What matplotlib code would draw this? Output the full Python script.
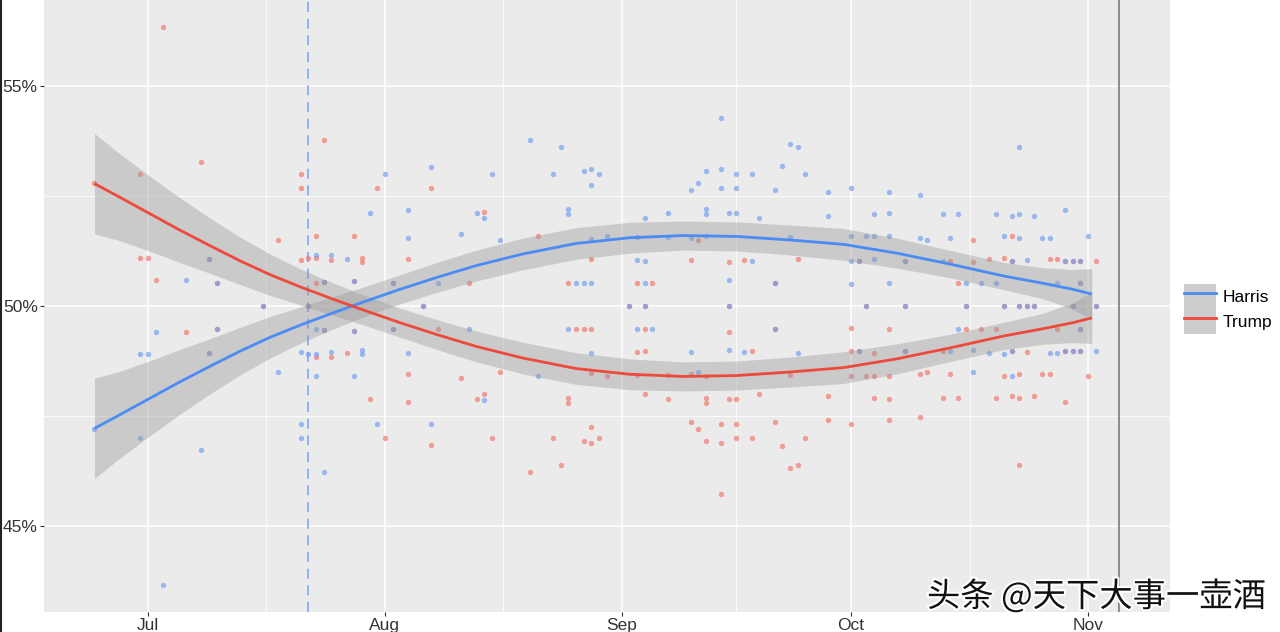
import matplotlib
matplotlib.use("Agg")
import matplotlib.pyplot as plt
import matplotlib.dates as mdates
import matplotlib.patheffects as pe
from matplotlib.lines import Line2D
from matplotlib.patches import Patch
import matplotlib.ticker as mticker
import pandas as pd

plt.rcParams["font.family"] = ["Liberation Sans", "DejaVu Sans"]

# ---- poll points (two-party share, %) ----
poll_dates = [
    "2024-06-24", "2024-06-30", "2024-06-30", "2024-07-01", "2024-07-02", "2024-07-03",
    "2024-07-06", "2024-07-08", "2024-07-09", "2024-07-09", "2024-07-10", "2024-07-10",
    "2024-07-16", "2024-07-18", "2024-07-21", "2024-07-21", "2024-07-21", "2024-07-22",
    "2024-07-22", "2024-07-23", "2024-07-23", "2024-07-23", "2024-07-23", "2024-07-24",
    "2024-07-24", "2024-07-24", "2024-07-25", "2024-07-25", "2024-07-27", "2024-07-28",
    "2024-07-28", "2024-07-28", "2024-07-29", "2024-07-29", "2024-07-30", "2024-07-31",
    "2024-08-01", "2024-08-02", "2024-08-02", "2024-08-04", "2024-08-04", "2024-08-04",
    "2024-08-06", "2024-08-07", "2024-08-07", "2024-08-08", "2024-08-11", "2024-08-12",
    "2024-08-13", "2024-08-14", "2024-08-14", "2024-08-15", "2024-08-16", "2024-08-20",
    "2024-08-21", "2024-08-23", "2024-08-24", "2024-08-25", "2024-08-25", "2024-08-25",
    "2024-08-26", "2024-08-27", "2024-08-27", "2024-08-28", "2024-08-28", "2024-08-28",
    "2024-08-28", "2024-08-28", "2024-08-29", "2024-08-30",
    "2024-09-02", "2024-09-03", "2024-09-03", "2024-09-03", "2024-09-04", "2024-09-04",
    "2024-09-04", "2024-09-04", "2024-09-05", "2024-09-07", "2024-09-07", "2024-09-10",
    "2024-09-10", "2024-09-10", "2024-09-11", "2024-09-11", "2024-09-12", "2024-09-12",
    "2024-09-12", "2024-09-12", "2024-09-14", "2024-09-14", "2024-09-14", "2024-09-15",
    "2024-09-15", "2024-09-15", "2024-09-15", "2024-09-16", "2024-09-16", "2024-09-16",
    "2024-09-17", "2024-09-18", "2024-09-18", "2024-09-19", "2024-09-21", "2024-09-21",
    "2024-09-21", "2024-09-22", "2024-09-23", "2024-09-23", "2024-09-24", "2024-09-24",
    "2024-09-25", "2024-09-28", "2024-09-28",
    "2024-10-01", "2024-10-01", "2024-10-01", "2024-10-01", "2024-10-02", "2024-10-02",
    "2024-10-03", "2024-10-03", "2024-10-04", "2024-10-04", "2024-10-04", "2024-10-06",
    "2024-10-06", "2024-10-06", "2024-10-06", "2024-10-08", "2024-10-08", "2024-10-08",
    "2024-10-10", "2024-10-10", "2024-10-11", "2024-10-13", "2024-10-13", "2024-10-14",
    "2024-10-14", "2024-10-15", "2024-10-15", "2024-10-16", "2024-10-16", "2024-10-17",
    "2024-10-17", "2024-10-18", "2024-10-19", "2024-10-20", "2024-10-20", "2024-10-21",
    "2024-10-21", "2024-10-21", "2024-10-22", "2024-10-22", "2024-10-22", "2024-10-22",
    "2024-10-23", "2024-10-23", "2024-10-23", "2024-10-23", "2024-10-24", "2024-10-24",
    "2024-10-25", "2024-10-25", "2024-10-26", "2024-10-27", "2024-10-27", "2024-10-28",
    "2024-10-28", "2024-10-29", "2024-10-29", "2024-10-29", "2024-10-30", "2024-10-30",
    "2024-10-30", "2024-10-31", "2024-10-31", "2024-10-31", "2024-10-31", "2024-11-01",
    "2024-11-02", "2024-11-02",
]
harris_pct = [
    47.20, 47.00, 48.92, 48.92, 49.40, 43.67,
    50.60, 46.74, 48.93, 51.07, 49.48, 50.52,
    50.00, 48.50, 47.00, 47.32, 48.95, 48.92,
    50.00, 51.16, 48.42, 48.92, 49.48, 46.23,
    50.55, 49.45, 51.16, 48.96, 51.07, 48.40,
    50.56, 49.44, 48.92, 49.00, 52.12, 47.32,
    53.00, 50.53, 49.47, 52.17, 51.55, 48.93,
    50.00, 53.16, 47.32, 50.53, 51.64, 49.48,
    52.12, 52.00, 47.87, 53.00, 51.50, 53.76,
    48.42, 53.00, 53.60, 52.20, 52.10, 49.48,
    50.52, 53.07, 50.52, 53.12, 52.75, 51.53,
    50.52, 48.93, 53.00, 51.60,
    50.00, 51.57, 51.04, 49.47, 51.99, 51.02,
    50.52, 50.00, 49.48, 52.12, 51.57, 52.63,
    51.55, 48.96, 52.80, 48.49, 53.06, 52.20,
    52.10, 51.60, 54.26, 53.12, 52.68, 52.12,
    50.60, 50.00, 49.00, 53.00, 52.68, 52.12,
    48.96, 53.00, 51.02, 51.99, 52.63, 50.52,
    49.48, 53.18, 53.68, 51.57, 53.60, 48.93,
    53.00, 52.58, 52.04,
    52.68, 51.58, 51.02, 50.51, 51.02, 48.98,
    51.58, 50.00, 52.08, 51.58, 51.07, 52.58,
    52.12, 51.58, 50.53, 51.02, 50.00, 48.98,
    52.52, 51.55, 51.50, 52.08, 51.02, 51.55,
    48.98, 52.10, 49.47, 50.52, 50.00, 48.50,
    49.00, 50.53, 48.93, 52.08, 50.52, 51.60,
    48.92, 50.00, 52.04, 48.42, 51.02, 48.98,
    53.60, 52.08, 51.55, 50.00, 51.05, 50.00,
    52.04, 50.00, 51.55, 51.55, 48.93, 48.93,
    50.52, 52.17, 51.02, 48.98, 51.02, 50.00,
    48.98, 51.02, 50.52, 49.48, 48.98, 51.58,
    48.98, 50.00,
]
trump_pct = [
    52.80, 53.00, 51.08, 51.08, 50.60, 56.33,
    49.40, 53.26, 51.07, 48.93, 50.52, 49.48,
    50.00, 51.50, 53.00, 52.68, 51.05, 51.08,
    50.00, 48.84, 51.58, 51.08, 50.52, 53.77,
    49.45, 50.55, 48.84, 51.04, 48.93, 51.60,
    49.44, 50.56, 51.08, 51.00, 47.88, 52.68,
    47.00, 49.47, 50.53, 47.83, 48.45, 51.07,
    50.00, 46.84, 52.68, 49.47, 48.36, 50.52,
    47.88, 48.00, 52.13, 47.00, 48.50, 46.24,
    51.58, 47.00, 46.40, 47.80, 47.90, 50.52,
    49.48, 46.93, 49.48, 46.88, 47.25, 48.47,
    49.48, 51.07, 47.00, 48.40,
    50.00, 48.43, 48.96, 50.53, 48.01, 48.98,
    49.48, 50.00, 50.52, 47.88, 48.43, 47.37,
    48.45, 51.04, 47.20, 51.51, 46.94, 47.80,
    47.90, 48.40, 45.74, 46.88, 47.32, 47.88,
    49.40, 50.00, 51.00, 47.00, 47.32, 47.88,
    51.04, 47.00, 48.98, 48.01, 47.37, 49.48,
    50.52, 46.82, 46.32, 48.43, 46.40, 51.07,
    47.00, 47.42, 47.96,
    47.32, 48.42, 48.98, 49.49, 48.98, 51.02,
    48.42, 50.00, 47.92, 48.42, 48.93, 47.42,
    47.88, 48.42, 49.47, 48.98, 50.00, 51.02,
    47.48, 48.45, 48.50, 47.92, 48.98, 48.45,
    51.02, 47.90, 50.53, 49.48, 50.00, 51.50,
    51.00, 49.47, 51.07, 47.92, 49.48, 48.40,
    51.08, 50.00, 47.96, 51.58, 48.98, 51.02,
    46.40, 47.92, 48.45, 50.00, 48.95, 50.00,
    47.96, 50.00, 48.45, 48.45, 51.07, 51.07,
    49.48, 47.83, 48.98, 51.02, 48.98, 50.00,
    51.02, 48.98, 49.48, 50.52, 51.02, 48.42,
    51.02, 50.00,
]

# ---- smoothed trend with confidence band ----
smooth_dates = [
    "2024-06-24", "2024-06-27", "2024-07-01", "2024-07-05", "2024-07-09",
    "2024-07-13", "2024-07-17", "2024-07-21", "2024-07-25", "2024-07-29",
    "2024-08-03", "2024-08-08", "2024-08-13", "2024-08-19", "2024-08-26",
    "2024-09-02", "2024-09-09", "2024-09-16", "2024-09-23", "2024-09-30",
    "2024-10-07", "2024-10-14", "2024-10-21", "2024-10-26", "2024-10-30",
    "2024-11-01T12:00",
]
harris_fit = [47.22, 47.50, 47.88, 48.26, 48.62, 48.97, 49.29, 49.57, 49.83, 50.08,
              50.38, 50.66, 50.92, 51.18, 51.42, 51.55, 51.60, 51.58, 51.50, 51.40,
              51.20, 50.95, 50.68, 50.52, 50.38, 50.27]
harris_lo = [46.08, 46.50, 47.02, 47.52, 47.99, 48.43, 48.82, 49.16, 49.46, 49.74,
             50.05, 50.32, 50.57, 50.82, 51.06, 51.20, 51.27, 51.25, 51.16, 51.04,
             50.86, 50.64, 50.37, 50.17, 49.93, 49.69]
harris_hi = [48.36, 48.50, 48.74, 49.00, 49.25, 49.51, 49.76, 49.98, 50.20, 50.42,
             50.71, 51.00, 51.27, 51.54, 51.78, 51.90, 51.93, 51.91, 51.84, 51.76,
             51.54, 51.26, 50.99, 50.87, 50.83, 50.85]
trump_fit = [52.78, 52.50, 52.12, 51.74, 51.38, 51.03, 50.71, 50.43, 50.17, 49.92,
             49.62, 49.34, 49.08, 48.82, 48.58, 48.45, 48.40, 48.42, 48.50, 48.60,
             48.80, 49.05, 49.32, 49.48, 49.62, 49.73]
trump_lo = [51.64, 51.50, 51.26, 51.00, 50.75, 50.49, 50.24, 50.02, 49.80, 49.58,
            49.29, 49.00, 48.73, 48.46, 48.22, 48.10, 48.07, 48.09, 48.16, 48.24,
            48.46, 48.74, 49.01, 49.13, 49.17, 49.15]
trump_hi = [53.92, 53.50, 52.98, 52.48, 52.01, 51.57, 51.18, 50.84, 50.54, 50.26,
            49.95, 49.68, 49.43, 49.18, 48.94, 48.80, 48.73, 48.75, 48.84, 48.96,
            49.14, 49.36, 49.63, 49.83, 50.07, 50.31]

biden_exit = "2024-07-22"
election_day = "2024-11-05"

BLUE_LINE = "#4A8BF5"
RED_LINE = "#EE4A3C"
BLUE_PT = "#6E9CF0"
RED_PT = "#F27066"

pd_dates = pd.to_datetime(poll_dates)
sm_dates = pd.to_datetime(smooth_dates, format="ISO8601")

fig = plt.figure(figsize=(12.8, 6.32), dpi=100)
ax = fig.add_axes([44 / 1280, 20 / 632, 1126 / 1280, 612 / 632])
ax.set_facecolor("#EBEBEB")
for s in ax.spines.values():
    s.set_visible(False)

# points first, bands on top, lines last (ggplot layer order)
ax.scatter(pd_dates, trump_pct, s=15, color=RED_PT, alpha=0.65, linewidths=0, zorder=2)
ax.scatter(pd_dates, harris_pct, s=15, color=BLUE_PT, alpha=0.65, linewidths=0, zorder=2)

ax.fill_between(sm_dates, harris_lo, harris_hi, color="#999999", alpha=0.4, linewidth=0, zorder=3)
ax.fill_between(sm_dates, trump_lo, trump_hi, color="#999999", alpha=0.4, linewidth=0, zorder=3)
ax.plot(sm_dates, harris_fit, color=BLUE_LINE, lw=2.0, zorder=4, solid_capstyle="butt")
ax.plot(sm_dates, trump_fit, color=RED_LINE, lw=2.0, zorder=4, solid_capstyle="butt")

ax.axvline(pd.Timestamp(biden_exit), color="#7FA8F5", lw=1.2, ls=(0, (6, 4)), zorder=1.5)
ax.axvline(pd.Timestamp(election_day), color="#8C8C8C", lw=1.4, zorder=1.5)

# axes ranges
x0 = mdates.date2num(pd.Timestamp("2024-07-01")) - 13.6
x1 = mdates.date2num(pd.Timestamp("2024-11-01")) + 10.73
ax.set_xlim(x0, x1)
ax.set_ylim(43.05, 56.95)

ax.xaxis.set_major_locator(mdates.MonthLocator())
ax.xaxis.set_major_formatter(mdates.DateFormatter("%b"))
months = [mdates.date2num(pd.Timestamp(f"2024-{m:02d}-01")) for m in range(6, 13)]
ax.xaxis.set_minor_locator(mticker.FixedLocator([(a + b) / 2 for a, b in zip(months[:-1], months[1:])]))
ax.set_yticks([45, 50, 55])
ax.set_yticks([47.5, 52.5], minor=True)
ax.set_yticklabels(["45%", "50%", "55%"])
ax.get_yticklabels()[0].set_color("#9A9A9A")

ax.grid(which="major", color="white", lw=1.1, zorder=0)
ax.grid(which="minor", color="white", lw=0.55, zorder=0)
ax.set_axisbelow(True)
ax.tick_params(which="major", length=3, width=0.8, color="#333333",
               labelsize=12.5, labelcolor="#333333", pad=1.5)
ax.tick_params(which="minor", length=0)

# legend
handles = [
    (Patch(facecolor="#CCCCCC", edgecolor="none"), Line2D([], [], color=BLUE_LINE, lw=2)),
    (Patch(facecolor="#CCCCCC", edgecolor="none"), Line2D([], [], color=RED_LINE, lw=2)),
]
ax.legend(handles, ["Harris", "Trump"], loc="center left",
          bbox_to_anchor=(1184 / 1280, 1 - 309 / 632), bbox_transform=fig.transFigure,
          frameon=False, fontsize=12.5, handlelength=1.85, handleheight=1.85,
          labelspacing=0, handletextpad=0.35, borderpad=0, borderaxespad=0)

# watermark
fig.text(927 / 1280, 1 - 597 / 632, "头条 @天下大事一壶酒", fontsize=24,
         family=["Noto Sans CJK SC", "DejaVu Sans"], color="#111111", va="center", ha="left",
         path_effects=[pe.withStroke(linewidth=3, foreground="white")])

fig.add_artist(Line2D([0.0008, 0.0008], [0, 1], color="#222222", lw=1.5, transform=fig.transFigure))

fig.savefig("out.png", dpi=100)
